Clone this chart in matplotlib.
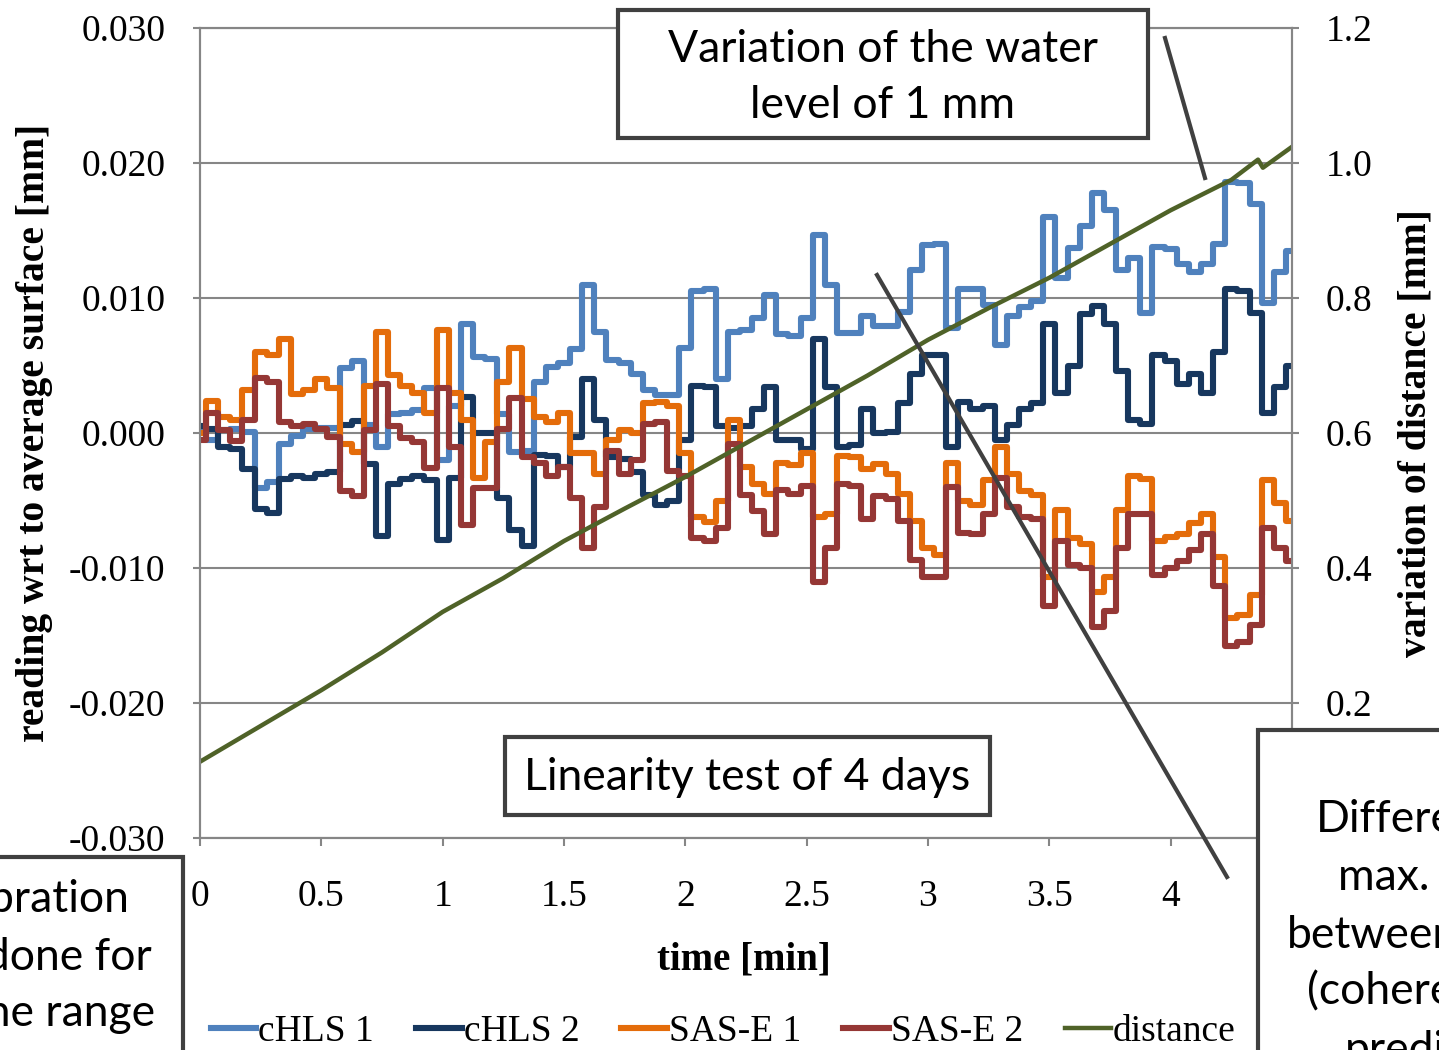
import numpy as np
import matplotlib
matplotlib.use('Agg')
import matplotlib.pyplot as plt
from matplotlib.patches import Rectangle
from matplotlib.lines import Line2D

plt.rcParams['font.family'] = 'Liberation Serif'
plt.rcParams['axes.unicode_minus'] = False

W, H = 1439, 1050

# sampling times [min]
t = np.round(np.arange(0, 4.501, 0.05), 2)

# readings in micrometres (0.001 mm), every 0.05 min
chls1_um = [0.2, -0.5, 0.2, 0.3, 0.1, -4.1, -3.6, -0.8, -0.2, 0.3,
            0.4, 0.4, 4.8, 5.3, 0.6, -1.0, 1.4, 1.5, 1.7, 3.3,
            -2.0, 2.0, 8.1, 5.6, 5.5, 1.4, -1.4, -1.3, 3.8, 4.9,
            5.2, 6.2, 11.0, 7.5, 5.4, 5.2, 4.4, 3.2, 2.8, 2.8,
            6.3, 10.5, 10.7, 4.0, 7.5, 7.6, 8.5, 10.2, 7.3, 7.2,
            8.5, 14.7, 11.0, 7.4, 7.4, 8.7, 7.9, 7.9, 9.0, 12.1,
            13.9, 14.0, 7.8, 10.7, 10.7, 9.5, 6.5, 8.7, 9.3, 9.8,
            16.0, 11.5, 13.7, 15.3, 17.8, 16.5, 12.1, 13.0, 8.9, 13.8,
            13.6, 12.5, 11.9, 12.5, 14.0, 18.6, 18.5, 17.0, 9.6, 11.9,
            13.5]
chls2_um = [0.5, 0.3, -1.0, -1.2, -2.7, -5.6, -5.9, -3.4, -3.2, -3.3,
            -3.0, -2.9, 0.6, 0.9, -2.3, -7.6, -3.8, -3.4, -3.2, -3.5,
            -7.9, -3.3, 2.7, 0.0, 0.0, -4.8, -7.2, -8.4, -1.6, -1.7,
            -2.5, -0.3, 4.0, 1.0, -1.8, -1.9, -2.9, -4.6, -5.3, -5.0,
            -0.5, 3.5, 3.4, 0.5, 0.4, 0.5, 1.8, 3.4, -0.5, -0.5,
            -1.2, 7.0, 3.4, -1.0, -0.9, 1.8, 0.0, 0.1, 2.2, 4.4,
            5.8, 5.8, -1.0, 2.3, 1.8, 2.0, -0.5, 0.6, 1.8, 2.2,
            8.1, 3.0, 5.0, 8.8, 9.4, 8.1, 4.6, 1.0, 0.7, 5.8,
            5.3, 3.6, 4.4, 3.0, 6.0, 10.7, 10.5, 8.9, 1.5, 3.4,
            5.0]
sase1_um = [0.0, 2.4, 1.2, 1.0, 3.2, 6.0, 5.8, 7.0, 2.9, 3.2,
            4.0, 3.3, -0.8, -1.4, 3.5, 7.5, 4.3, 3.5, 3.0, 1.5,
            7.6, 3.0, 1.0, -3.3, -0.7, 3.8, 6.3, 2.5, 1.2, 0.8,
            1.5, -1.5, -1.5, -3.0, -0.5, 0.2, 0.0, 2.2, 2.3, 2.0,
            -1.5, -6.2, -6.6, -5.0, 1.0, -2.5, -3.8, -4.5, -2.2, -2.4,
            -1.5, -6.2, -6.0, -1.7, -1.8, -2.7, -2.3, -3.0, -4.5, -6.5,
            -8.5, -9.0, -2.2, -5.0, -5.3, -3.5, -1.0, -3.0, -4.3, -4.6,
            -10.7, -5.7, -7.8, -8.2, -11.8, -10.7, -5.7, -3.2, -3.4, -8.0,
            -7.7, -7.5, -6.7, -6.0, -9.2, -13.7, -13.5, -12.0, -3.5, -5.2,
            -6.5]
sase2_um = [-0.5, 1.5, 0.2, -0.6, 1.0, 4.1, 3.8, 0.8, 0.5, 0.7,
            0.3, -0.3, -4.3, -4.7, 0.2, 3.6, 0.5, -0.4, -0.7, -2.6,
            3.3, -1.0, -6.8, -4.1, -4.1, 0.3, 2.6, -1.8, -2.2, -3.2,
            -2.5, -4.8, -8.5, -5.5, -1.3, -3.0, -2.0, 0.7, 0.8, -2.8,
            -3.2, -7.8, -8.0, -7.0, -0.8, -4.6, -5.8, -7.5, -4.2, -4.5,
            -3.9, -11.0, -8.5, -3.8, -3.9, -6.4, -4.7, -4.9, -6.5, -9.4,
            -10.7, -10.7, -4.0, -7.4, -7.5, -6.0, -3.3, -5.5, -6.2, -6.4,
            -12.8, -8.0, -9.8, -10.0, -14.4, -13.2, -8.5, -6.0, -6.0, -10.5,
            -10.0, -9.5, -8.7, -7.5, -11.3, -15.8, -15.5, -14.2, -7.0, -8.5,
            -9.5]

# distance on the right axis [mm]
dist_t = [0, 0.25, 0.5, 0.75, 1.0, 1.25, 1.5, 1.75, 2.0, 2.25, 2.5,
          2.75, 3.0, 3.25, 3.5, 3.75, 4.0, 4.25, 4.36, 4.38, 4.5]
dist_mm = [0.113, 0.166, 0.219, 0.275, 0.335, 0.385, 0.440, 0.488, 0.535,
           0.585, 0.635, 0.685, 0.738, 0.785, 0.830, 0.880, 0.930, 0.975,
           1.005, 0.993, 1.024]

names = ['cHLS 1', 'cHLS 2', 'SAS-E 1', 'SAS-E 2', 'distance']
colors = ['#4F81BD', '#17375E', '#E46C0A', '#953735', '#4F6228']
grey = '#868686'

fig = plt.figure(figsize=(W / 100, H / 100), dpi=100)
ax = fig.add_axes([200 / W, 1 - 838 / H, 1092 / W, 810 / H])
ax2 = ax.twinx()

handles = []
for vals, name, col in zip([chls1_um, chls2_um, sase1_um, sase2_um], names[:4], colors[:4]):
    ln, = ax.plot(t, np.array(vals) / 1000.0, color=col, lw=4.4,
                  drawstyle='steps-mid', label=name)
    handles.append(ln)
ln, = ax2.plot(dist_t, dist_mm, color=colors[4], lw=3.2, label=names[4])
handles.append(ln)

ax.set_xlim(0, 4.5)
ax.set_ylim(-0.03, 0.03)
ax2.set_ylim(0, 1.2)
ax.set_xticks(np.arange(0, 4.51, 0.5))
ax.set_xticklabels(['0', '0.5', '1', '1.5', '2', '2.5', '3', '3.5', '4', '4.5'])
ax.set_yticks(np.arange(-0.03, 0.0301, 0.01))
ax.set_yticklabels(['%.3f' % v for v in np.arange(-0.03, 0.0301, 0.01)])
ax2.set_yticks(np.arange(0, 1.21, 0.2))
ax2.set_yticklabels(['%.1f' % v for v in np.arange(0, 1.21, 0.2)])

ax.set_axisbelow(True)
ax.grid(True, axis='y', color=grey, lw=1.5)
for a in (ax, ax2):
    for s in a.spines.values():
        s.set_color(grey)
        s.set_linewidth(1.5)
ax.tick_params(axis='y', direction='out', length=5, width=1.5, color=grey, labelsize=27, pad=20)
ax.tick_params(axis='x', direction='out', length=6, width=1.5, color=grey, labelsize=27, pad=24)
ax2.tick_params(axis='y', direction='out', length=5, width=1.5, color=grey, labelsize=27, pad=19)

ax.set_xlabel('time [min]', fontsize=28, fontweight='bold')
ax.xaxis.set_label_coords(0.498, -0.128)
ax.set_ylabel('reading wrt to average surface [mm]', fontsize=28.5, fontweight='bold')
ax.yaxis.set_label_coords(-0.135, 0.5)
ax2.set_ylabel('variation of distance [mm]', fontsize=28.5, fontweight='bold')
ax2.yaxis.set_label_coords(1.097, 0.5)

fig.legend(handles, names, loc='center', bbox_to_anchor=(723 / W, 1 - 1032 / H),
           ncol=5, frameon=False, fontsize=27, handlelength=1.22,
           handletextpad=0.05, columnspacing=1.12)

box_font = 'Lato'
box_fs = 32


def box(x0, y0, x1, y1):
    r = Rectangle((x0 / W, 1 - y1 / H), (x1 - x0) / W, (y1 - y0) / H,
                  transform=fig.transFigure, facecolor='white',
                  edgecolor='#404040', lw=3, zorder=5)
    fig.add_artist(r)


def note(x, y, s, ha='center'):
    fig.text(x / W, 1 - y / H, s, ha=ha, va='center', fontsize=box_fs,
             family=box_font, color='black', zorder=6)


def leader(x0, y0, x1, y1):
    fig.add_artist(Line2D([x0 / W, x1 / W], [1 - y0 / H, 1 - y1 / H],
                          transform=fig.transFigure, color='#404040',
                          lw=3, zorder=5))


leader(1165, 38, 1205, 178)
leader(877, 275, 1227, 877)

box(618, 10, 1148, 138)
note(883, 49, 'Variation of the water')
note(883, 105, 'level of 1 mm')

box(505, 737, 990, 815)
note(747, 778, 'Linearity test of 4 days')

box(-20, 857, 183, 1070)
note(130, 900, 'Calibration', ha='right')
note(152, 957, 'was done for', ha='right')
note(155, 1014, 'in the range', ha='right')

box(1258, 730, 1460, 1070)
note(1316, 820, 'Difference', ha='left')
note(1338, 878, 'max. value', ha='left')
note(1287, 936, 'between', ha='left')
note(1307, 992, '(coherent', ha='left')
note(1345, 1050, 'predicted)', ha='left')

fig.savefig('out.png', dpi=100)
